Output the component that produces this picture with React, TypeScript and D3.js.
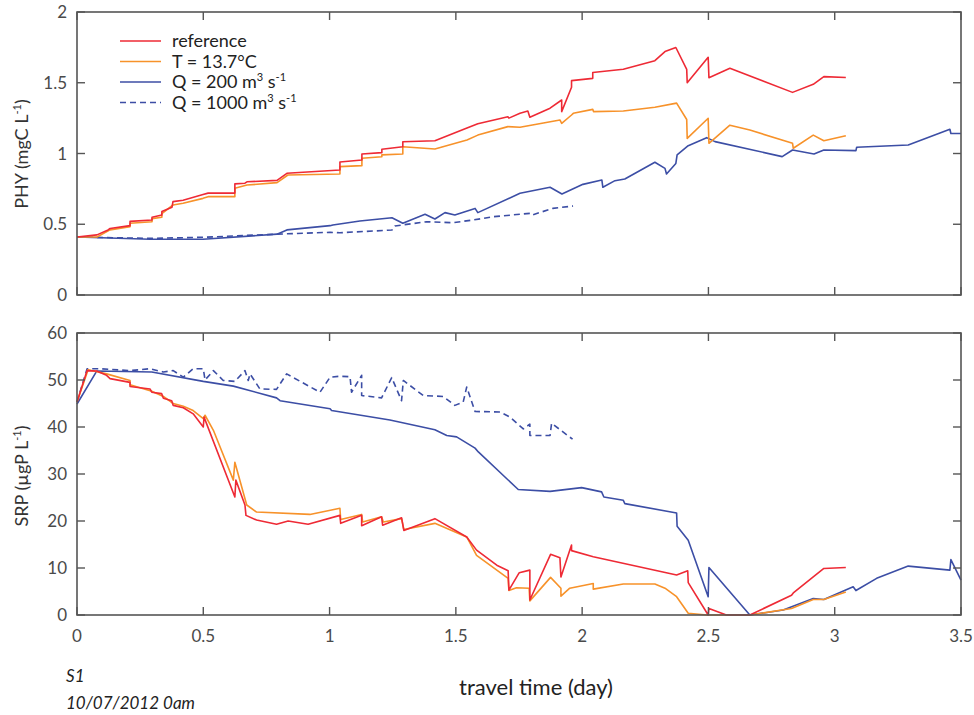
import React from "react";
import * as d3 from "d3";

// [travel time (day), value]
const phyReference = [[0,0.41],[0.079,0.425],[0.123,0.46],[0.131,0.47],[0.21,0.49],[0.21,0.52],[0.297,0.53],[0.297,0.55],[0.336,0.565],[0.336,0.59],[0.376,0.62],[0.38,0.66],[0.42,0.67],[0.499,0.71],[0.519,0.72],[0.625,0.72],[0.625,0.785],[0.665,0.79],[0.673,0.8],[0.792,0.81],[0.831,0.86],[1.041,0.883],[1.041,0.94],[1.128,0.954],[1.128,0.996],[1.207,1.006],[1.207,1.03],[1.29,1.048],[1.29,1.083],[1.417,1.09],[1.544,1.18],[1.587,1.21],[1.706,1.26],[1.71,1.25],[1.754,1.285],[1.785,1.3],[1.793,1.256],[1.873,1.32],[1.919,1.378],[1.919,1.296],[1.958,1.468],[1.958,1.515],[2.042,1.531],[2.042,1.572],[2.163,1.595],[2.288,1.656],[2.328,1.72],[2.371,1.749],[2.414,1.595],[2.416,1.5],[2.499,1.68],[2.502,1.536],[2.585,1.602],[2.833,1.432],[2.915,1.489],[2.957,1.543],[3.044,1.537]];
const phyT137 = [[0,0.41],[0.079,0.41],[0.131,0.46],[0.21,0.483],[0.21,0.507],[0.297,0.518],[0.297,0.54],[0.336,0.55],[0.336,0.575],[0.38,0.636],[0.42,0.648],[0.499,0.683],[0.519,0.695],[0.625,0.695],[0.625,0.754],[0.673,0.777],[0.792,0.794],[0.835,0.848],[1.041,0.855],[1.041,0.907],[1.128,0.914],[1.128,0.966],[1.207,0.977],[1.207,0.99],[1.29,0.996],[1.29,1.048],[1.417,1.032],[1.544,1.095],[1.587,1.13],[1.706,1.19],[1.754,1.185],[1.912,1.237],[1.919,1.213],[1.958,1.272],[1.965,1.284],[2.042,1.312],[2.045,1.296],[2.163,1.3],[2.288,1.327],[2.374,1.356],[2.414,1.24],[2.416,1.107],[2.499,1.249],[2.502,1.072],[2.585,1.2],[2.664,1.166],[2.833,1.072],[2.836,1.037],[2.915,1.13],[2.957,1.09],[3.044,1.126]];
const phyQ200 = [[0,0.41],[0.29,0.394],[0.499,0.394],[0.792,0.43],[0.831,0.46],[1.002,0.49],[1.013,0.495],[1.12,0.523],[1.247,0.546],[1.29,0.507],[1.378,0.57],[1.417,0.537],[1.457,0.582],[1.496,0.565],[1.576,0.612],[1.587,0.582],[1.754,0.719],[1.873,0.761],[1.92,0.714],[2.003,0.782],[2.078,0.813],[2.082,0.761],[2.13,0.808],[2.169,0.82],[2.288,0.938],[2.328,0.895],[2.334,0.855],[2.371,0.93],[2.376,0.99],[2.42,1.055],[2.493,1.112],[2.526,1.084],[2.792,0.978],[2.833,1.025],[2.918,0.996],[2.957,1.025],[3.084,1.02],[3.087,1.044],[3.291,1.06],[3.456,1.171],[3.46,1.141],[3.5,1.141]];
const phyQ1000 = [[0,0.41],[0.29,0.4],[0.499,0.408],[0.792,0.43],[1.002,0.443],[1.041,0.44],[1.247,0.459],[1.259,0.488],[1.385,0.518],[1.488,0.511],[1.568,0.53],[1.647,0.553],[1.793,0.577],[1.801,0.565],[1.884,0.612],[1.964,0.629]];

const srpReference = [[0,45.3],[0.04,52.0],[0.078,51.9],[0.117,51.0],[0.131,50.3],[0.21,49.5],[0.21,48.6],[0.289,48.1],[0.296,47.4],[0.335,47.1],[0.342,46.1],[0.375,45.6],[0.381,44.6],[0.421,44.1],[0.46,42.8],[0.5,40.0],[0.503,42.1],[0.625,25.1],[0.629,28.7],[0.665,23.4],[0.669,21.2],[0.711,20.2],[0.79,19.3],[0.836,20.0],[0.915,19.3],[1.041,21.2],[1.044,19.5],[1.127,21.2],[1.127,19.0],[1.206,20.9],[1.21,19.1],[1.285,20.7],[1.294,18.0],[1.417,20.5],[1.543,16.6],[1.582,13.8],[1.662,10.6],[1.707,9.4],[1.71,5.3],[1.751,9.0],[1.793,9.55],[1.793,3.2],[1.875,12.9],[1.912,12.2],[1.916,8.1],[1.951,13.8],[1.958,14.9],[1.958,13.7],[2.044,12.4],[2.374,8.5],[2.418,9.4],[2.42,6.9],[2.499,0],[2.502,1.4],[2.571,0],[2.664,0],[2.829,4.2],[2.836,4.7],[2.915,8.1],[2.957,9.9],[3.044,10.1]];
const srpT137 = [[0,45.3],[0.044,52.2],[0.117,51.3],[0.21,49.9],[0.21,49.0],[0.296,47.6],[0.342,46.5],[0.381,45.0],[0.421,44.4],[0.46,43.5],[0.5,41.8],[0.507,42.5],[0.54,39.3],[0.619,28.7],[0.625,32.5],[0.672,23.4],[0.711,21.9],[0.922,21.4],[1.041,22.7],[1.044,20.3],[1.127,21.4],[1.131,19.8],[1.206,20.9],[1.213,19.8],[1.285,20.5],[1.294,18.2],[1.417,19.5],[1.543,16.6],[1.582,12.7],[1.707,7.8],[1.71,5.2],[1.74,5.8],[1.79,5.7],[1.793,3.0],[1.875,8.0],[1.916,5.7],[1.916,4.0],[1.951,5.7],[2.044,6.7],[2.044,5.5],[2.163,6.6],[2.288,6.6],[2.328,5.7],[2.374,3.9],[2.42,0.36],[2.493,0],[2.664,0],[2.829,1.4],[2.915,3.3],[2.957,3.3],[3.044,4.9]];
const srpQ200 = [[0,44.9],[0.078,51.9],[0.296,51.7],[0.5,49.7],[0.619,48.7],[0.79,46.2],[0.804,45.6],[1.002,43.9],[1.008,43.5],[1.239,41.5],[1.417,39.4],[1.464,38.2],[1.503,37.9],[1.576,35.5],[1.589,34.7],[1.747,26.7],[1.873,26.3],[1.998,27.1],[2.077,26.2],[2.086,25.1],[2.163,24.4],[2.169,23.7],[2.374,21.7],[2.376,18.9],[2.42,15.9],[2.499,3.9],[2.502,10.1],[2.664,0],[2.796,1.06],[2.915,3.5],[2.957,3.3],[3.073,6.0],[3.084,5.2],[3.166,7.8],[3.291,10.4],[3.456,9.55],[3.46,11.8],[3.5,7.4]];
const srpQ1000 = [[0,45.3],[0.04,52.4],[0.091,52.4],[0.21,52.0],[0.289,52.4],[0.342,51.7],[0.381,52.0],[0.421,50.6],[0.46,52.4],[0.5,52.4],[0.507,50.0],[0.54,52.0],[0.579,49.9],[0.625,49.7],[0.665,52.0],[0.678,49.9],[0.685,51.3],[0.724,48.1],[0.79,48.0],[0.83,51.3],[0.962,47.4],[1.002,50.6],[1.041,50.8],[1.081,50.7],[1.087,47.4],[1.127,51.0],[1.127,46.7],[1.206,46.2],[1.246,50.5],[1.285,45.6],[1.292,49.9],[1.371,46.7],[1.45,46.5],[1.496,44.6],[1.529,45.3],[1.543,48.5],[1.576,43.3],[1.675,43.2],[1.714,42.1],[1.767,39.6],[1.793,40.6],[1.793,38.2],[1.873,38.2],[1.879,40.8],[1.962,37.4]];

const xTicks = [0, 0.5, 1, 1.5, 2, 2.5, 3, 3.5];
const phyTicks = [0, 0.5, 1, 1.5, 2];
const srpTicks = [0, 10, 20, 30, 40, 50, 60];

const RED = "#ee2a35";
const ORANGE = "#f7922a";
const BLUE = "#3c4ea5";
const AXIS = "#555";
const FONT = "Lato, 'Open Sans', sans-serif";

const x = d3.scaleLinear().domain([0, 3.5]).range([77, 961]);
const yPhy = d3.scaleLinear().domain([0, 2]).range([295, 12]);
const ySrp = d3.scaleLinear().domain([0, 60]).range([615, 333]);

function Panel({ y, ticks, series, label, labelY, showX }) {
  const line = d3.line().x(d => x(d[0])).y(d => y(d[1]));
  const [y0, y1] = y.range();
  const [x0, x1] = x.range();
  const tl = 8;
  return (
    <g>
      {series.map((s, i) => (
        <path key={i} d={line(s.data)} fill="none" stroke={s.color} strokeWidth={1.6}
          strokeDasharray={s.dash ? "6,4" : null} strokeLinejoin="round" />
      ))}
      <rect x={x0} y={y1} width={x1 - x0} height={y0 - y1} fill="none" stroke={AXIS} strokeWidth={1.6} />
      {xTicks.map(t => (
        <g key={t}>
          <line x1={x(t)} x2={x(t)} y1={y0} y2={y0 - tl} stroke={AXIS} strokeWidth={1.4} />
          <line x1={x(t)} x2={x(t)} y1={y1} y2={y1 + tl} stroke={AXIS} strokeWidth={1.4} />
          {showX && (
            <text x={x(t)} y={y0 + 27} textAnchor="middle" fontSize={17} fill="#4a4a4a" fontFamily={FONT}>{t}</text>
          )}
        </g>
      ))}
      {ticks.map(t => (
        <g key={t}>
          <line x1={x0} x2={x0 + tl} y1={y(t)} y2={y(t)} stroke={AXIS} strokeWidth={1.4} />
          <line x1={x1} x2={x1 - tl} y1={y(t)} y2={y(t)} stroke={AXIS} strokeWidth={1.4} />
          <text x={x0 - 10} y={y(t)} dy="0.36em" textAnchor="end" fontSize={17} fill="#4a4a4a" fontFamily={FONT}>{t}</text>
        </g>
      ))}
      <text transform={`translate(28,${labelY}) rotate(-90)`} textAnchor="middle" fontSize={18} fill="#333" fontFamily={FONT}>
        {label}
      </text>
    </g>
  );
}

const legendItems = [
  { color: RED, dash: false, text: <tspan>reference</tspan> },
  { color: ORANGE, dash: false, text: <tspan>T = 13.7°C</tspan> },
  { color: BLUE, dash: false, text: <><tspan>Q = 200 m</tspan><tspan dy={-7} fontSize={11}>3</tspan><tspan dy={7}> s</tspan><tspan dy={-7} fontSize={11}>-1</tspan></> },
  { color: BLUE, dash: true, text: <><tspan>Q = 1000 m</tspan><tspan dy={-7} fontSize={11}>3</tspan><tspan dy={7}> s</tspan><tspan dy={-7} fontSize={11}>-1</tspan></> },
];

export default function App() {
  return (
    <svg width={974} height={715} style={{ position: "absolute", left: 0, top: 0, background: "#fff" }}>
      <Panel y={yPhy} ticks={phyTicks} labelY={154} showX={false}
        label={<><tspan>PHY (mgC L</tspan><tspan dy={-7} fontSize={11}>-1</tspan><tspan dy={7}>)</tspan></>}
        series={[
          { data: phyQ1000, color: BLUE, dash: true },
          { data: phyQ200, color: BLUE },
          { data: phyT137, color: ORANGE },
          { data: phyReference, color: RED },
        ]} />
      <Panel y={ySrp} ticks={srpTicks} labelY={476} showX={true}
        label={<><tspan>SRP (µgP L</tspan><tspan dy={-7} fontSize={11}>-1</tspan><tspan dy={7}>)</tspan></>}
        series={[
          { data: srpQ1000, color: BLUE, dash: true },
          { data: srpQ200, color: BLUE },
          { data: srpT137, color: ORANGE },
          { data: srpReference, color: RED },
        ]} />
      {legendItems.map((d, i) => (
        <g key={i} transform={`translate(120,${41 + i * 20.5})`}>
          <line x1={0} x2={41} y1={0} y2={0} stroke={d.color} strokeWidth={1.6} strokeDasharray={d.dash ? "6,4" : null} />
          <text x={52} y={6} fontSize={18} fill="#222" fontFamily={FONT}>{d.text}</text>
        </g>
      ))}
      <text x={536} y={695} textAnchor="middle" fontSize={22} fill="#222" fontFamily={FONT}>travel time (day)</text>
      <text x={66} y={682} fontSize={17} fontStyle="italic" fill="#222" fontFamily={FONT}>S1</text>
      <text x={66} y={709} fontSize={17} fontStyle="italic" fill="#222" fontFamily={FONT}>10/07/2012 0am</text>
    </svg>
  );
}
